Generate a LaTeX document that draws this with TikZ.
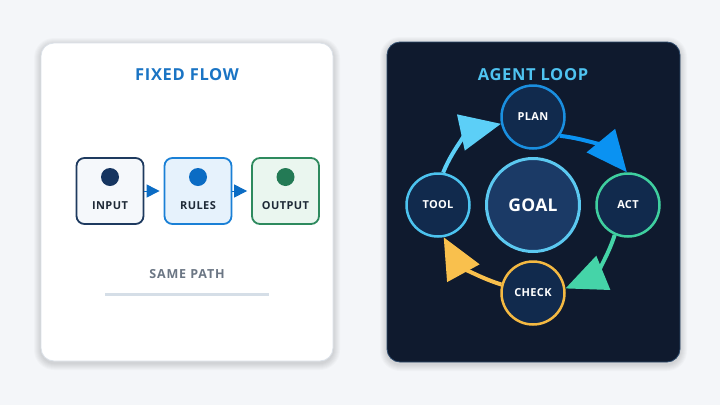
\documentclass[tikz,border=0pt]{standalone}
\usepackage{fontspec}
\setmainfont{Open Sans}
\usetikzlibrary{arrows.meta}
\definecolor{bg}{HTML}{F4F6F9}
\definecolor{cardborder}{HTML}{DCE2E9}
\definecolor{darkcard}{HTML}{0F1A2E}
\definecolor{darkborder}{HTML}{2E4B6C}
\definecolor{flowblue}{HTML}{1A74C4}
\definecolor{grayt}{HTML}{6B7684}
\definecolor{lineg}{HTML}{D5DEE7}
\definecolor{inb}{HTML}{1E3A5F}\definecolor{inf}{HTML}{F5F8FB}\definecolor{ind}{HTML}{163560}
\definecolor{rub}{HTML}{1A80D6}\definecolor{ruf}{HTML}{E6F2FC}\definecolor{rud}{HTML}{0B6CC4}
\definecolor{oub}{HTML}{2E8A5E}\definecolor{ouf}{HTML}{EAF6EF}\definecolor{oud}{HTML}{237A55}
\definecolor{labt}{HTML}{1F2A37}
\definecolor{loopt}{HTML}{4FC3F0}
\definecolor{cfill}{HTML}{112A4D}
\definecolor{gfill}{HTML}{1B3A66}
\definecolor{gbord}{HTML}{5BC8F0}
\definecolor{planc}{HTML}{1A8FE0}
\definecolor{toolc}{HTML}{4CC3EF}
\definecolor{actc}{HTML}{3FCF9F}
\definecolor{checkc}{HTML}{F4B942}
\definecolor{a1}{HTML}{5CCFF7}
\definecolor{a2}{HTML}{0A92F2}
\definecolor{a3}{HTML}{45D4A8}
\definecolor{a4}{HTML}{F9C04D}
\tikzset{
  card/.style={rounded corners=13pt, line width=0.8pt},
  shade/.style={fill=black, fill opacity=0.018},
  fbox/.style={draw, rounded corners=8pt, line width=1.8pt, minimum width=67pt, minimum height=66pt, inner sep=0pt},
  flab/.style={font=\bfseries\fontsize{11}{13}\selectfont\addfontfeature{LetterSpace=4}, text=labt},
  title/.style={font=\bfseries\fontsize{16.5}{19}\selectfont\addfontfeature{LetterSpace=4}},
  small/.style={circle, draw, line width=2.5pt, fill=cfill, minimum size=63pt, inner sep=0pt,
    font=\bfseries\fontsize{11}{13}\selectfont\addfontfeature{LetterSpace=3}, text=white},
  farrow/.style={draw=rud, line width=1pt, -{Triangle[length=13pt,width=13pt]}, color=rud},
  larrow/.style={line width=4pt, -{Triangle[length=41pt,width=36pt]}},
}
\begin{document}
\begin{tikzpicture}[x=1pt,y=-1pt]
\fill[bg] (0,0) rectangle (720,405);
\useasboundingbox (0,0) rectangle (720,405);
% shadows
\foreach \d in {1,2,...,7}{
  \fill[shade, rounded corners=13pt+\d pt] (41-\d,45-\d) rectangle (333+\d,363+\d);
  \fill[shade, rounded corners=13pt+\d pt] (387-\d,44-\d) rectangle (680+\d,364+\d);
}
% left card
\node[card, draw=cardborder, fill=white, minimum width=292pt, minimum height=318pt, inner sep=0pt] (leftcard) at (187,202) {};
\node[title, text=flowblue] (ftitle) at (187,75) {FIXED FLOW};
\node[fbox, draw=inb, fill=inf] (input) at (110,191) {};
\node[fbox, draw=rub, fill=ruf] (rules) at (198,191) {};
\node[fbox, draw=oub, fill=ouf] (output) at (285.5,191) {};
\fill[ind] (110,177) circle (9);
\fill[rud] (198,177) circle (9);
\fill[oud] (285.5,177) circle (9);
\node[flab] (inl) at (110,206) {INPUT};
\node[flab] (rul) at (198,206) {RULES};
\node[flab] (oul) at (285.5,206) {OUTPUT};
\draw[farrow] (input.east) -- ([xshift=-4pt]rules.west);
\draw[farrow] (rules.east) -- ([xshift=-4pt]output.west);
\node[font=\bfseries\fontsize{12.5}{15}\selectfont\addfontfeature{LetterSpace=7}, text=grayt] (same) at (187,274) {SAME PATH};
\coordinate (l1) at (105,294);
\coordinate (l2) at (269,294);
\draw[lineg, line width=3pt] (l1) -- (l2);
% right card
\node[card, draw=darkborder, fill=darkcard, minimum width=293pt, minimum height=320pt, inner sep=0pt] (rightcard) at (533.5,202) {};
\node[title, text=loopt] (atitle) at (533,75) {AGENT LOOP};
\node[circle, draw=gbord, fill=gfill, line width=3pt, minimum size=93pt, inner sep=0pt,
  font=\bfseries\fontsize{17.5}{20}\selectfont\addfontfeature{LetterSpace=2}, text=white] (goal) at (533,205) {GOAL};
\node[small, draw=planc] (plan) at (533,117) {PLAN};
\node[small, draw=toolc] (tool) at (438,205) {TOOL};
\node[small, draw=actc] (act) at (628,205) {ACT};
\node[small, draw=checkc] (check) at (533,293) {CHECK};
\draw[larrow, a1] (tool.81) to[bend left=28] (plan.192);
\draw[larrow, a2] (plan.-35) to[bend left=22] (act.92);
\draw[larrow, a3] (act.246) to[bend left=25] (check.8);
\draw[larrow, a4] (check.165) to[bend left=22] (tool.280);
\end{tikzpicture}
\end{document}
